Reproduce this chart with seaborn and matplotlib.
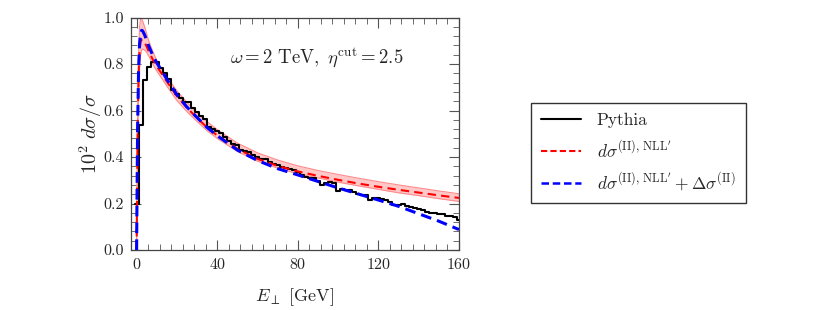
import numpy as np
import matplotlib
matplotlib.use("Agg")
import matplotlib.pyplot as plt
import seaborn as sns
from matplotlib.ticker import AutoMinorLocator, MultipleLocator
from matplotlib.lines import Line2D

# Pythia histogram, bin centres every 2 GeV
pythia_e = np.arange(0, 161, 2)
pythia_val = [0.20, 0.536, 0.73, 0.787, 0.809, 0.81, 0.785, 0.76, 0.735, 0.69,
              0.67, 0.655, 0.637, 0.637, 0.61, 0.594, 0.575, 0.565, 0.53, 0.522,
              0.51, 0.505, 0.486, 0.468, 0.455, 0.45, 0.432, 0.425, 0.42, 0.41,
              0.40, 0.392, 0.39, 0.38, 0.372, 0.365, 0.355, 0.352, 0.35, 0.345,
              0.335, 0.322, 0.315, 0.31, 0.308, 0.295, 0.28, 0.29, 0.292, 0.288,
              0.255, 0.262, 0.26, 0.256, 0.248, 0.24, 0.235, 0.236, 0.215, 0.222,
              0.222, 0.22, 0.215, 0.205, 0.192, 0.195, 0.196, 0.19, 0.183, 0.18,
              0.178, 0.172, 0.165, 0.16, 0.16, 0.155, 0.155, 0.148, 0.148, 0.14,
              0.13]

# curves
curve_e = [0, 0.5, 1, 1.5, 2, 2.5, 3, 4, 5, 6, 8, 10, 12, 15, 20, 25, 30, 35, 40,
           50, 60, 70, 80, 90, 100, 110, 120, 130, 140, 150, 160]
nll = [0.0, 0.5, 0.75, 0.86, 0.895, 0.905, 0.905, 0.893, 0.875, 0.855, 0.82, 0.79,
       0.765, 0.725, 0.662, 0.612, 0.568, 0.527, 0.493, 0.435, 0.392, 0.362, 0.338,
       0.319, 0.302, 0.286, 0.272, 0.259, 0.247, 0.235, 0.224]
nll_hi = [0.0, 0.6, 0.85, 0.96, 0.995, 0.995, 0.985, 0.96, 0.93, 0.9, 0.855, 0.815,
          0.785, 0.745, 0.685, 0.635, 0.59, 0.552, 0.518, 0.46, 0.418, 0.387, 0.362,
          0.342, 0.325, 0.309, 0.294, 0.28, 0.267, 0.254, 0.242]
nll_lo = [0.0, 0.45, 0.68, 0.79, 0.84, 0.86, 0.865, 0.86, 0.85, 0.835, 0.8, 0.77,
          0.745, 0.705, 0.643, 0.595, 0.553, 0.513, 0.48, 0.424, 0.382, 0.352, 0.328,
          0.31, 0.292, 0.276, 0.261, 0.246, 0.234, 0.221, 0.209]
nll_corr = [0.0, 0.52, 0.78, 0.89, 0.93, 0.945, 0.943, 0.925, 0.902, 0.878, 0.838,
            0.805, 0.778, 0.735, 0.668, 0.615, 0.57, 0.527, 0.492, 0.43, 0.385, 0.35,
            0.323, 0.295, 0.267, 0.241, 0.215, 0.188, 0.156, 0.124, 0.088]

sns.set_theme(style="ticks")
plt.rcParams["font.family"] = ["cmr10"]
plt.rcParams["mathtext.fontset"] = "cm"
plt.rcParams["axes.formatter.use_mathtext"] = True
plt.rcParams["axes.unicode_minus"] = False

fig = plt.figure(figsize=(8.3, 3.1), dpi=100)
ax = fig.add_axes([0.158, 0.1935, 0.395, 0.75])

# uncertainty band
ax.fill_between(curve_e, nll_lo, nll_hi, color="#ffc8c8", lw=0, zorder=1)
ax.plot(curve_e, nll_hi, color="#ff8a8a", lw=0.8, zorder=1)
ax.plot(curve_e, nll_lo, color="#ff8a8a", lw=0.8, zorder=1)

sns.histplot(x=pythia_e, weights=pythia_val, binwidth=2, binrange=(-1, 161),
             element="step", fill=False, color="black", linewidth=1.5, ax=ax,
             zorder=3)
sns.lineplot(x=curve_e, y=nll, color="red", linestyle=(0, (4, 2.5)), lw=1.5,
             ax=ax, zorder=4)
sns.lineplot(x=curve_e, y=nll_corr, color="blue", linestyle=(0, (3.5, 2)), lw=2.2,
             ax=ax, zorder=5)

ax.set_xlim(-2.7, 160)
ax.set_ylim(0, 1.0)
ax.xaxis.set_major_locator(MultipleLocator(40))
ax.xaxis.set_minor_locator(AutoMinorLocator(7))
ax.yaxis.set_major_locator(MultipleLocator(0.2))
ax.yaxis.set_minor_locator(AutoMinorLocator(5))
ax.yaxis.set_major_formatter(matplotlib.ticker.FormatStrFormatter("%.1f"))
ax.tick_params(which="both", direction="in", top=True, right=True,
               color="#555555", labelsize=11.5, pad=5)
ax.tick_params(which="major", length=7, width=0.8)
ax.tick_params(which="minor", length=4, width=0.6)
for s in ax.spines.values():
    s.set_color("#444444")
    s.set_linewidth(0.9)

ax.set_xlabel(r"$E_\perp$ [GeV]", fontsize=13, labelpad=10)
ax.set_ylabel(r"$10^2\ d\sigma/\sigma$", fontsize=14.5, labelpad=0)
ax.text(0.565, 0.83, r"$\omega = 2\ \mathrm{TeV},\ \eta^{\rm cut} = 2.5$",
        transform=ax.transAxes, ha="center", va="center", fontsize=13.5)

handles = [Line2D([], [], color="black", lw=1.5),
           Line2D([], [], color="red", lw=1.5, linestyle=(0, (3, 1.5))),
           Line2D([], [], color="blue", lw=1.8, linestyle=(0, (3, 1.5)))]
labels = ["Pythia", r"$d\sigma^{\rm (II),\,NLL'}$",
          r"$d\sigma^{\rm (II),\,NLL'} + \Delta\sigma^{\rm (II)}$"]
leg = fig.legend(handles, labels, loc="upper left", bbox_to_anchor=(0.629, 0.697),
                 fontsize=12.5, frameon=True, fancybox=False, edgecolor="black",
                 handlelength=2.3, labelspacing=0.6, borderpad=0.6,
                 handletextpad=0.9)
leg.get_frame().set_linewidth(1.0)

fig.savefig("out.png", dpi=100)
